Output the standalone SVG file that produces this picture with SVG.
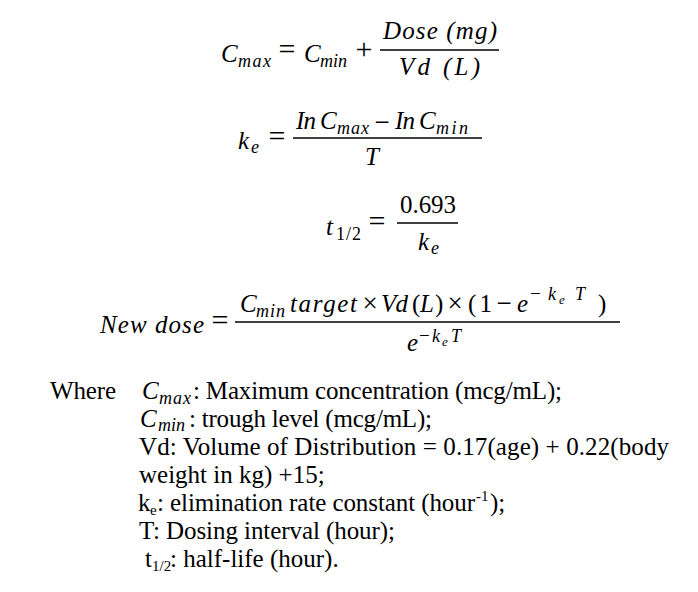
<svg xmlns="http://www.w3.org/2000/svg" width="698" height="592" viewBox="0 0 698 592">
<style>
.m{font-family:"Liberation Serif","Times New Roman",serif;font-style:italic;font-size:25px;fill:#000}
.ms{font-family:"Liberation Serif","Times New Roman",serif;font-style:italic;font-size:18px;fill:#000}
.mss{font-family:"Liberation Serif","Times New Roman",serif;font-style:italic;font-size:13px;fill:#000}
.u{font-family:"Liberation Serif","Times New Roman",serif;font-size:25px;fill:#000}
.us{font-family:"Liberation Serif","Times New Roman",serif;font-size:18px;fill:#000}
.op{font-family:"Liberation Serif","Times New Roman",serif;font-size:27px;fill:#000;text-anchor:middle}
.eq{font-family:"Liberation Serif","Times New Roman",serif;font-size:30px;fill:#000;text-anchor:middle}
.ops{font-family:"Liberation Serif","Times New Roman",serif;font-size:19px;fill:#000}
.t{font-family:"Liberation Serif","Times New Roman",serif;font-size:25px;fill:#000}
.ts{font-family:"Liberation Serif","Times New Roman",serif;font-size:15px;fill:#000}
.bar{stroke:#000;stroke-width:1.4}
</style>
<rect width="698" height="592" fill="#fff"/>

<g id="eq1">
<text class="m" x="221" y="62">C</text>
<text class="ms" x="238" y="67" textLength="33">max</text>
<text class="eq" x="287" y="59">=</text>
<text class="m" x="304" y="62">C</text>
<text class="ms" x="320" y="67" textLength="27">min</text>
<text class="eq" x="364" y="59">+</text>
<line class="bar" x1="380" y1="50" x2="499" y2="50"/>
<text class="m" x="383" y="39" textLength="114">Dose (mg)</text>
<text class="m" x="399" y="75" textLength="81">Vd (L)</text>
</g>

<g id="eq2">
<text class="m" x="238" y="149">k</text>
<text class="ms" x="251" y="153">e</text>
<text class="eq" x="277" y="146">=</text>
<line class="bar" x1="293" y1="138" x2="482" y2="138"/>
<text class="m" x="296" y="129" textLength="20">In</text>
<text class="m" x="320" y="129">C</text>
<text class="ms" x="337" y="134" textLength="32">max</text>
<text class="op" x="382" y="131">−</text>
<text class="m" x="395" y="129" textLength="20">In</text>
<text class="m" x="419" y="129">C</text>
<text class="ms" x="436" y="134" textLength="32">min</text>
<text class="m" x="372" y="165" text-anchor="middle">T</text>
</g>

<g id="eq3">
<text class="m" x="326" y="235">t</text>
<text class="us" x="336" y="240" textLength="25">1/2</text>
<text class="eq" x="377" y="231">=</text>
<line class="bar" x1="397" y1="223" x2="458" y2="223"/>
<text class="u" x="400" y="213" textLength="56">0.693</text>
<text class="m" x="418" y="250">k</text>
<text class="ms" x="431" y="254">e</text>
</g>

<g id="eq4">
<text class="m" x="100" y="333" textLength="104">New dose</text>
<text class="eq" x="220" y="330">=</text>
<line class="bar" x1="235" y1="322" x2="620" y2="322"/>
<text class="m" x="240" y="312">C</text>
<text class="ms" x="256" y="317" textLength="29">min</text>
<text class="m" x="290" y="312" textLength="67">target</text>
<text class="op" x="370" y="312">×</text>
<text class="m" x="381" y="312" textLength="27">Vd</text>
<text class="u" x="412" y="312">(</text>
<text class="m" x="420" y="312">L</text>
<text class="u" x="435" y="312">)</text>
<text class="op" x="455" y="312">×</text>
<text class="u" x="468" y="312" textLength="24">(1</text>
<text class="op" x="504" y="312">−</text>
<text class="m" x="517" y="312">e</text>
<text class="ops" x="530" y="300">−</text>
<text class="ms" x="548" y="300">k</text>
<text class="mss" x="559" y="304">e</text>
<text class="ms" x="575" y="300" font-size="20">T</text>
<text class="u" x="598" y="312">)</text>
<text class="m" x="407" y="351">e</text>
<text class="ops" x="419" y="342">−</text>
<text class="ms" x="432" y="342">k</text>
<text class="mss" x="442" y="346">e</text>
<text class="ms" x="451" y="342">T</text>
</g>

<g id="legend">
<text class="t" x="50" y="399" textLength="66">Where</text>
<text class="m" x="142" y="399">C</text>
<text class="ms" x="159" y="404" textLength="32">max</text>
<text class="t" x="193" y="399" textLength="369">: Maximum concentration (mcg/mL);</text>
<text class="m" x="140" y="427">C</text>
<text class="ms" x="158" y="431" font-size="17" textLength="27">min</text>
<text class="t" x="189" y="427" textLength="243">: trough level (mcg/mL);</text>
<text class="t" x="139" y="455" textLength="530">Vd: Volume of Distribution = 0.17(age) + 0.22(body</text>
<text class="t" x="139" y="483">weight in kg) +15;</text>
<text class="t" x="138" y="511">k</text>
<text class="ts" x="150" y="515">e</text>
<text class="t" x="157" y="511" textLength="318">: elimination rate constant (hour</text>
<text class="ts" x="476" y="501">-1</text>
<text class="t" x="490" y="511">);</text>
<text class="t" x="139" y="539" textLength="256">T: Dosing interval (hour);</text>
<text class="t" x="145" y="567">t</text>
<text class="ts" x="152" y="571">1/2</text>
<text class="t" x="170" y="567">: half-life (hour).</text>
</g>
</svg>
